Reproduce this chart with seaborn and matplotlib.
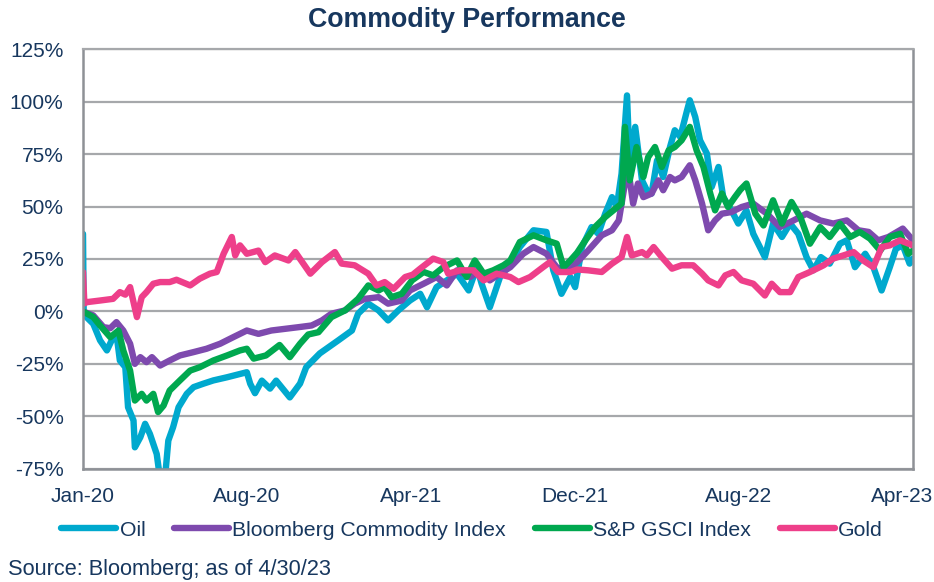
import numpy as np
import pandas as pd
import matplotlib
matplotlib.use("Agg")
import matplotlib.pyplot as plt
import matplotlib.dates as mdates
from matplotlib.ticker import FuncFormatter
import seaborn as sns

START = pd.Timestamp("2020-01-01")

series_names = ["Oil", "Bloomberg Commodity Index", "S&P GSCI Index", "Gold"]
series_colors = ["#00A9CE", "#7E4AAE", "#00A84F", "#EE3F8A"]

# day offsets from 1 Jan 2020 and cumulative performance (%)
oil_days = [0, 1, 5, 15, 25, 35, 42, 49, 54, 62, 66, 74, 76, 84, 91, 98, 108, 113, 120, 125,
            132, 140, 152, 162, 176, 191, 211, 240, 245, 252, 262, 274, 283, 303, 318, 327, 347,
            374, 394, 403, 418, 433, 447, 462, 479, 494, 504, 518, 533, 548, 565, 577, 584, 596,
            611, 626, 640, 660, 679, 689, 701, 714, 721, 731, 745, 755, 765, 775, 782, 789, 797,
            801, 809, 819, 826, 833, 841, 850, 860, 867, 875, 885, 889, 897, 904, 914, 921, 931,
            938, 950, 960, 972, 982, 999, 1011, 1024, 1036, 1048, 1060, 1070, 1081, 1094, 1109,
            1119, 1131, 1146, 1158, 1170, 1182, 1191, 1201, 1211, 1216]
oil_vals = [37, 0, -2.7, -5.9, -13.8, -18.6, -13.8, -10.7, -23.4, -26.6, -45.7, -52, -64.8, -60,
            -53.6, -58.4, -68, -80, -80, -61.6, -55.2, -45.7, -39.3, -36.1, -34.5, -32.9, -31.4,
            -29, -34.5, -39, -33, -36.8, -33, -41, -34.4, -26.6, -20, -13.8, -9.1, -1.1, 3.7, 0.5,
            -4.3, 0.5, 5.2, 8.4, 2, 11.6, 14.8, 18, 10, 21.1, 13.2, 2, 16.4, 22.8, 30.7, 38.7,
            37.9, 19.6, 8.4, 16.4, 11.6, 30.7, 40.2, 37, 46.6, 54.5, 49.8, 65.7, 103, 70.5, 88,
            62.5, 57.8, 56.2, 72, 64.1, 78.4, 86.4, 83.2, 95.9, 100.7, 92.7, 81.6, 75.3, 59.3,
            68.9, 54.5, 48.2, 41.9, 48.2, 37, 25.9, 41.9, 35.5, 41.9, 37, 25.9, 19.6, 25.9, 22.8,
            32.3, 33.9, 21.1, 27.5, 21.1, 10, 21.1, 29.9, 31.5, 22.8, 25.2]

bcom_days = [0, 15, 30, 40, 49, 59, 69, 76, 84, 93, 101, 113, 127, 142, 162, 181, 201, 220, 240,
             257, 276, 296, 316, 335, 350, 364, 384, 398, 413, 433, 447, 467, 479, 499, 518, 533,
             548, 567, 582, 596, 611, 626, 645, 660, 679, 694, 708, 724, 740, 760, 775, 785, 794,
             799, 806, 813, 821, 833, 843, 850, 860, 867, 877, 889, 897, 907, 916, 926, 936, 950,
             965, 982, 1002, 1021, 1041, 1060, 1080, 1099, 1119, 1136, 1151, 1165, 1180, 1201,
             1216]
bcom_vals = [0, -1.9, -7.5, -8, -5.1, -9.1, -15.4, -25, -21.8, -24.2, -21.8, -25.8, -23.4, -21,
             -19.4, -17.8, -15.4, -12.3, -9.1, -10.7, -9.1, -8.3, -7.5, -6.7, -4.3, -1.1, 0.5,
             3.7, 6, 6.8, 3.7, 5.2, 10, 13.2, 16.4, 12.4, 19.6, 16.4, 19.6, 14.8, 18, 21.1, 27.5,
             30.7, 27.5, 21.1, 19.6, 23.5, 29, 36.3, 38.7, 43.4, 61, 67.3, 51.4, 61, 54.5, 56.2,
             62.5, 57.8, 64.1, 62.5, 64.1, 69.7, 62.5, 51.4, 38.7, 43.4, 46.6, 47.4, 49.8, 51.4,
             46.6, 40.2, 43.4, 46.6, 43.4, 41.9, 43.4, 38.7, 37.9, 33.9, 35.5, 39.5, 33.9]

gsci_days = [0, 15, 25, 40, 52, 59, 69, 76, 86, 93, 103, 110, 118, 127, 142, 157, 171, 191, 211,
             230, 240, 250, 268, 288, 303, 318, 330, 345, 364, 384, 403, 418, 433, 442, 452, 467,
             482, 499, 513, 528, 548, 562, 574, 587, 601, 616, 626, 640, 660, 679, 694, 704, 714,
             724, 736, 750, 765, 780, 789, 794, 801, 811, 821, 828, 838, 848, 858, 867, 877, 889,
             899, 909, 919, 926, 936, 945, 955, 963, 972, 985, 997, 1011, 1024, 1038, 1051, 1065,
             1080, 1094, 1109, 1124, 1138, 1153, 1168, 1182, 1197, 1209, 1216]
gsci_vals = [0, -2.7, -6.7, -12.3, -9.1, -18.6, -28.2, -42.5, -39.3, -42.5, -39.3, -48, -44.9,
             -37.7, -32.9, -28.2, -26.6, -23.4, -21, -18.6, -17.8, -22.5, -21, -16, -21.8, -15.4,
             -11, -9.9, -2.7, 0.5, 6, 12.4, 10, 11.6, 6.8, 8.4, 14.8, 18.8, 17.2, 21.1, 24.3, 16.4,
             24.3, 18, 19.6, 22, 24.3, 33.1, 36.3, 33.9, 32.3, 21.1, 24.3, 28, 33.9, 40.2, 45, 49,
             51.4, 88, 62.5, 78.4, 64.1, 73.6, 78.4, 68.9, 76.8, 78.4, 81.6, 88, 76.8, 68.9, 56.2,
             48.2, 56.2, 49.8, 54.5, 58, 61, 46.6, 41, 53, 41.9, 52.2, 45, 32.3, 40.2, 35.5, 41.9,
             35.5, 37.9, 34.7, 29, 35.5, 37, 27.5, 29]

gold_days = [0, 2, 5, 25, 44, 54, 62, 69, 79, 86, 93, 103, 113, 127, 137, 157, 171, 186, 196, 206,
             218, 223, 230, 240, 257, 267, 281, 301, 311, 333, 350, 369, 379, 398, 418, 430, 442,
             455, 472, 483, 494, 513, 528, 535, 552, 572, 587, 606, 626, 638, 655, 674, 684, 696,
             714, 724, 740, 760, 775, 789, 797, 804, 819, 826, 836, 848, 863, 877, 894, 907, 916,
             931, 941, 953, 965, 982, 999, 1009, 1021, 1036, 1048, 1065, 1085, 1099, 1114, 1129,
             1143, 1158, 1170, 1182, 1197, 1216]
gold_vals = [18.8, 3.8, 4.4, 5.2, 6, 9.2, 8, 11.6, -2.7, 6.8, 9.2, 13.2, 14, 14, 15.1, 12.4, 15.6,
             18, 18.8, 27.5, 35.5, 26.7, 31.5, 27.5, 29, 23.5, 26.7, 24.3, 28.3, 18, 23.5, 28.3,
             22.8, 22, 18, 12.4, 14, 10.8, 16.4, 17.5, 20.4, 25.2, 23.5, 18, 19.6, 19.6, 14.8, 18,
             16.4, 14, 16.4, 21.1, 23.5, 18.8, 18.8, 20, 19.6, 18.8, 22.8, 25.9, 35.5, 26.7, 28.3,
             26.7, 30.7, 25.9, 20.4, 22, 22, 18, 14.8, 12.4, 17.2, 18.8, 14.8, 13.2, 7.6, 13.2,
             9.2, 9.2, 16.4, 18.8, 22, 25.2, 26.7, 28.3, 24.3, 21.1, 30.7, 31.5, 33.9, 31.5]

tick_days = [0, 240, 480, 720, 960, 1200]
y_ticks = [-75, -50, -25, 0, 25, 50, 75, 100, 125]

frames = []
for name, d, v in zip(series_names,
                      [oil_days, bcom_days, gsci_days, gold_days],
                      [oil_vals, bcom_vals, gsci_vals, gold_vals]):
    frames.append(pd.DataFrame({"Date": START + pd.to_timedelta(d, unit="D"),
                                "Return": v, "Series": name}))
df = pd.concat(frames, ignore_index=True)

sns.set_style("white")
plt.rcParams["font.family"] = ["Liberation Sans", "DejaVu Sans"]

NAVY = "#17375E"
GRID = "#A6A8AB"
SPINE = "#8E9196"

W, H = 934, 582
fig = plt.figure(figsize=(W / 100, H / 100), dpi=100)
left, right, top, bottom = 83, 913, 49.3, 468.7
ax = fig.add_axes([left / W, (H - bottom) / H, (right - left) / W, (bottom - top) / H])

sns.lineplot(data=df, x="Date", y="Return", hue="Series", hue_order=series_names,
             palette=series_colors, linewidth=4.6, estimator=None, sort=True, ax=ax)
for ln in ax.lines:
    ln.set_solid_capstyle("round")
    ln.set_solid_joinstyle("round")

ax.set_ylim(-75, 125)
ax.set_xlim(START, START + pd.Timedelta(days=1216))
ax.set_yticks(y_ticks)
ax.yaxis.set_major_formatter(FuncFormatter(lambda v, p: f"{v:.0f}%"))
ax.set_xticks([START + pd.Timedelta(days=d) for d in tick_days])
ax.xaxis.set_major_formatter(mdates.DateFormatter("%b-%y"))
ax.tick_params(axis="both", length=0, labelsize=15, labelcolor=NAVY)
ax.tick_params(axis="x", pad=13)
ax.tick_params(axis="y", pad=14)
ax.set_xlabel("")
ax.set_ylabel("")
ax.yaxis.grid(True, color=GRID, linewidth=1.6)
ax.xaxis.grid(False)
ax.set_axisbelow(True)
for s in ["left", "bottom", "right"]:
    ax.spines[s].set_color(SPINE)
    ax.spines[s].set_linewidth(1.8)
ax.spines["top"].set_color(GRID)
ax.spines["top"].set_linewidth(1.6)

handles, labels = ax.get_legend_handles_labels()
ax.get_legend().remove()
leg = fig.legend(handles, labels, loc="center", bbox_to_anchor=(472 / W, 1 - 530 / H),
                 ncol=4, frameon=False, handlelength=2.6, handletextpad=0.15,
                 columnspacing=1.35, fontsize=15.3)
for t in leg.get_texts():
    t.set_color(NAVY)
for h in leg.get_lines():
    h.set_linewidth(4.6)
    h.set_solid_capstyle("round")

fig.text(0.5, 1 - 20 / H, "Commodity Performance", ha="center", va="center",
         fontsize=19.3, fontweight="bold", color=NAVY)
fig.text(8 / W, 1 - 570 / H, "Source: Bloomberg; as of 4/30/23", ha="left", va="center",
         fontsize=15.7, color=NAVY)

fig.savefig("out.png", dpi=100)
